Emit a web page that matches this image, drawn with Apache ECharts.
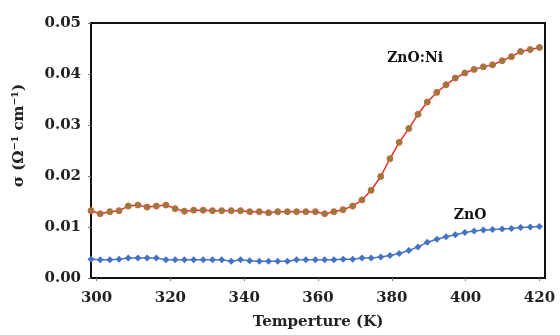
<!DOCTYPE html>
<html>
<head>
<meta charset="utf-8">
<script src="https://cdn.jsdelivr.net/npm/echarts@6/dist/echarts.min.js"></script>
<style>html,body{margin:0;padding:0;background:#fff}#c{width:560px;height:335px}</style>
</head>
<body>
<div id="c"></div>
<script>
// Temperature (K)
var temps = [298.5,301.0,303.6,306.1,308.6,311.2,313.7,316.2,318.8,321.3,323.8,326.3,328.9,331.4,333.9,336.5,339.0,341.5,344.1,346.6,349.1,351.7,354.2,356.7,359.3,361.8,364.3,366.8,369.4,371.9,374.4,377.0,379.5,382.0,384.6,387.1,389.6,392.2,394.7,397.2,399.8,402.3,404.8,407.3,409.9,412.4,414.9,417.5,420.0];
// sigma ZnO:Ni
var znoNi = [0.0132,0.0126,0.0130,0.0132,0.0141,0.0143,0.0139,0.0141,0.0143,0.0136,0.0131,0.0133,0.0133,0.0132,0.0132,0.0132,0.0132,0.0130,0.0130,0.0128,0.0130,0.0130,0.0130,0.0130,0.0130,0.0126,0.0130,0.0134,0.0141,0.0153,0.0172,0.0199,0.0234,0.0266,0.0293,0.0321,0.0345,0.0364,0.0379,0.0392,0.0402,0.0409,0.0414,0.0418,0.0426,0.0434,0.0444,0.0448,0.0452];
// sigma ZnO
var zno = [0.0037,0.0036,0.0036,0.0037,0.0039,0.0039,0.0039,0.0039,0.0036,0.0036,0.0036,0.0036,0.0036,0.0036,0.0036,0.0033,0.0036,0.0034,0.0033,0.0033,0.0033,0.0033,0.0036,0.0036,0.0036,0.0036,0.0036,0.0037,0.0037,0.0039,0.0039,0.0041,0.0044,0.0048,0.0054,0.0061,0.0070,0.0076,0.0081,0.0085,0.0089,0.0092,0.0094,0.0095,0.0096,0.0097,0.0099,0.0100,0.0101];
var xTicks = [300,320,340,360,380,400,420];
var seriesNames = ['ZnO:Ni','ZnO'];
var labelPos = [[386.3,0.0431],[401.2,0.0122]];

function pairs(xs, ys){ return xs.map(function(x,i){return [x, ys[i]];}); }
var FONT = 'DejaVu Serif';
var chart = echarts.init(document.getElementById('c'), null, {renderer:'canvas'});
chart.setOption({
  animation:false,
  grid:{left:91,right:15,top:23,bottom:54,show:true,borderColor:'#111',borderWidth:2,backgroundColor:'#fff'},
  xAxis:{
    type:'value',min:298.5,max:421.5,
    name:'Temperture (K)',nameLocation:'middle',nameGap:37,
    nameTextStyle:{fontFamily:FONT,fontWeight:'bold',fontSize:15,color:'#222'},
    axisLine:{show:true,lineStyle:{color:'#111',width:2}},
    axisTick:{show:true,customValues:xTicks,length:3,lineStyle:{color:'#777'}},
    axisLabel:{customValues:xTicks,margin:13,fontFamily:FONT,fontWeight:'bold',fontSize:15,color:'#222'},
    splitLine:{show:false}
  },
  yAxis:{
    type:'value',min:0,max:0.05,interval:0.01,
    name:'σ (Ω⁻¹ cm⁻¹)',nameLocation:'middle',nameGap:64,nameRotate:90,
    nameTextStyle:{fontFamily:FONT,fontWeight:'bold',fontSize:15,color:'#222',padding:[0,0,0,30]},
    axisLine:{show:true,lineStyle:{color:'#111',width:2}},
    axisTick:{show:true,length:3,lineStyle:{color:'#777'}},
    axisLabel:{margin:10,fontFamily:FONT,fontWeight:'bold',fontSize:15,color:'#222',
      formatter:function(v){return v.toFixed(2);}},
    splitLine:{show:false}
  },
  series:[
    {name:seriesNames[0],type:'line',data:pairs(temps,znoNi),
     symbol:'circle',symbolSize:6,
     lineStyle:{color:'#E8302A',width:1.5},
     itemStyle:{color:'#8E7F3E',borderColor:'#D9603A',borderWidth:1},
     markPoint:{symbol:'circle',symbolSize:0,
       label:{show:true,position:'inside',formatter:seriesNames[0],fontFamily:FONT,fontWeight:'bold',fontSize:14,color:'#111'},
       data:[{coord:labelPos[0]}]},
     z:3},
    {name:seriesNames[1],type:'line',data:pairs(temps,zno),
     symbol:'diamond',symbolSize:7,
     lineStyle:{color:'#4A74C8',width:1.5},
     itemStyle:{color:'#4472C4'},
     markPoint:{symbol:'circle',symbolSize:0,
       label:{show:true,position:'inside',formatter:seriesNames[1],fontFamily:FONT,fontWeight:'bold',fontSize:14,color:'#111'},
       data:[{coord:labelPos[1]}]},
     z:2}
  ]
});
</script>
</body>
</html>
